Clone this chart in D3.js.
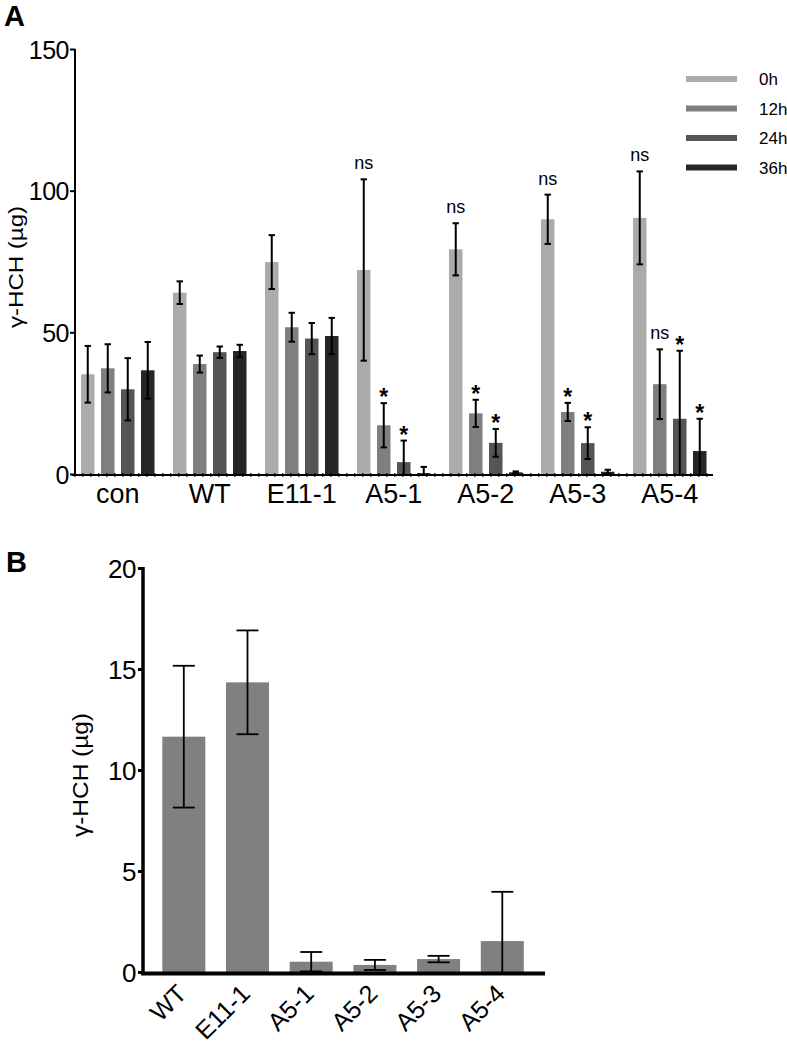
<!DOCTYPE html>
<html><head><meta charset="utf-8">
<script src="https://cdn.jsdelivr.net/npm/d3@7"></script>
<style>body{margin:0;background:#fff}svg{display:block;font-family:Arial,"Liberation Sans",Helvetica,sans-serif}</style>
</head><body><svg id="c" width="787" height="1044"></svg>
<script>
// ---------- Panel A data ----------
const groupsA = ["con","WT","E11-1","A5-1","A5-2","A5-3","A5-4"];
const seriesA = ["0h","12h","24h","36h"];
const colorsA = ["#ababab","#7f7f7f","#555555","#262626"];
const mean0h  = [35.2, 64.0, 74.8, 72.0, 79.3, 89.9, 90.4];
const err0h   = [10.0,  4.0,  9.5, 32.0,  9.2,  8.7, 16.4];
const mean12h = [37.3, 38.8, 51.8, 17.2, 21.4, 21.9, 31.7];
const err12h  = [ 8.5,  3.0,  5.1,  7.8,  4.8,  3.2, 12.3];
const mean24h = [29.9, 43.0, 47.8,  4.2, 11.0, 10.9, 19.5];
const err24h  = [11.0,  2.0,  5.5,  7.6,  4.9,  5.6, 24.0];
const mean36h = [36.6, 43.4, 48.7,  0.3,  0.6,  0.8,  8.1];
const err36h  = [10.0,  2.2,  6.4,  2.2,  0.3,  0.7, 11.4];
const ticksA = [0, 50, 100, 150];
// significance labels: [group, series, label]
const annotA = [
  ["A5-1","0h","ns"],["A5-1","12h","*"],["A5-1","24h","*"],
  ["A5-2","0h","ns"],["A5-2","12h","*"],["A5-2","24h","*"],
  ["A5-3","0h","ns"],["A5-3","12h","*"],["A5-3","24h","*"],
  ["A5-4","0h","ns"],["A5-4","12h","ns"],["A5-4","24h","*"],["A5-4","36h","*"]
];
// ---------- Panel B data ----------
const groupsB = ["WT","E11-1","A5-1","A5-2","A5-3","A5-4"];
const meanB = [11.65, 14.34, 0.51, 0.35, 0.64, 1.53];
const errB  = [ 3.51,  2.57, 0.48, 0.25, 0.16, 2.44];
const ticksB = [0, 5, 10, 15, 20];
const yLabel = "γ-HCH (µg)";

const svg = d3.select("#c");
const meansA = [mean0h, mean12h, mean24h, mean36h];
const errsA  = [err0h, err12h, err24h, err36h];
const dataA = [];
groupsA.forEach((g,i)=>seriesA.forEach((s,j)=>dataA.push({g, s, j, v:meansA[j][i], e:errsA[j][i]})));

// ---------- Panel A ----------
const x0 = d3.scaleBand().domain(groupsA).range([77, 77+7*92]).padding(0);
const x1 = d3.scaleBand().domain(seriesA).range([4, 77.5]).paddingInner(0.325).paddingOuter(0);
const yA = d3.scaleLinear().domain([0,150]).range([474, 49]);
const gA = svg.append("g");

gA.append("text").attr("x",4).attr("y",26).attr("font-size",29).attr("font-weight","bold").text("A");

gA.selectAll("rect.bar").data(dataA).join("rect")
  .attr("x", d=>x0(d.g)+x1(d.s)).attr("width", x1.bandwidth())
  .attr("y", d=>yA(d.v)).attr("height", d=>yA(0)-yA(d.v))
  .attr("fill", d=>colorsA[d.j]);

const cxA = d=>x0(d.g)+x1(d.s)+x1.bandwidth()/2;
const eb = gA.selectAll("g.eb").data(dataA).join("g").attr("stroke","#000").attr("stroke-width",2);
eb.append("line").attr("x1",cxA).attr("x2",cxA).attr("y1",d=>yA(d.v+d.e)).attr("y2",d=>yA(Math.max(0,d.v-d.e)));
eb.append("line").attr("x1",d=>cxA(d)-3.2).attr("x2",d=>cxA(d)+3.2).attr("y1",d=>yA(d.v+d.e)).attr("y2",d=>yA(d.v+d.e));
eb.filter(d=>d.v-d.e>0).append("line").attr("x1",d=>cxA(d)-3.2).attr("x2",d=>cxA(d)+3.2).attr("y1",d=>yA(d.v-d.e)).attr("y2",d=>yA(d.v-d.e));

// annotations
annotA.forEach(([g,s,lab])=>{
  const d = dataA.find(o=>o.g===g && o.s===s);
  const t = gA.append("text").attr("x",cxA(d)).attr("text-anchor","middle").text(lab);
  if(lab==="ns") t.attr("y", yA(d.v+d.e)-10).attr("font-size",18);
  else t.attr("y", yA(d.v+d.e)+2).attr("font-size",23).attr("font-weight","bold");
});

// y axis
const axA = gA.append("g").attr("transform","translate(75,0)")
  .call(d3.axisLeft(yA).tickValues(ticksA).tickSize(5).tickPadding(1).tickFormat(d3.format("d")));
axA.select(".domain").attr("stroke-width",2).attr("d",`M0,${yA(150)}V${yA(0)}`);
axA.selectAll(".tick line").attr("stroke-width",2);
axA.selectAll(".tick text").attr("font-size",25).attr("font-family","Arial,'Liberation Sans',sans-serif").attr("fill","#000").attr("dy","0.36em").attr("letter-spacing","-0.5");

// x axis (solid + dotted)
gA.append("line").attr("x1",72).attr("x2",713).attr("y1",yA(0)+1).attr("y2",yA(0)+1).attr("stroke","#000").attr("stroke-width",2);
gA.append("line").attr("x1",74).attr("x2",713).attr("y1",yA(0)+1).attr("y2",yA(0)+1).attr("stroke","#000").attr("stroke-width",3.5).attr("stroke-dasharray","1.5,6.5");
gA.selectAll("text.xl").data(groupsA).join("text")
  .attr("x",d=>x0(d)+4+73.5/2).attr("y",503).attr("text-anchor","middle").attr("font-size",27).text(d=>d);

gA.append("text").attr("transform",`translate(23,267) rotate(-90)`).attr("text-anchor","middle")
  .attr("font-size",20).attr("textLength",122).attr("lengthAdjust","spacingAndGlyphs").text(yLabel);

// legend
const lg = gA.selectAll("g.lg").data(seriesA).join("g").attr("transform",(d,i)=>`translate(0,${79+i*29.5})`);
lg.append("rect").attr("x",686).attr("y",-3).attr("width",51).attr("height",6).attr("fill",(d,i)=>colorsA[i]);
lg.append("text").attr("x",759).attr("y",0).attr("dy","0.36em").attr("font-size",17).text(d=>d);

// ---------- Panel B ----------
const xB = d3.scaleBand().domain(groupsB).range([151.95, 534.15]).paddingInner(0.325).paddingOuter(0.1625);
const yB = d3.scaleLinear().domain([0,20]).range([972, 568]);
const gB = svg.append("g");
gB.append("text").attr("x",6).attr("y",572).attr("font-size",29).attr("font-weight","bold").text("B");

gB.selectAll("rect").data(groupsB).join("rect")
  .attr("x",d=>xB(d)).attr("width",xB.bandwidth())
  .attr("y",(d,i)=>yB(meanB[i])).attr("height",(d,i)=>yB(0)-yB(meanB[i])).attr("fill","#808080");
const cxB = d=>xB(d)+xB.bandwidth()/2;
const ebB = gB.selectAll("g.eb").data(groupsB).join("g").attr("stroke","#000").attr("stroke-width",1.8);
ebB.append("line").attr("x1",cxB).attr("x2",cxB).attr("y1",(d,i)=>yB(meanB[i]+errB[i])).attr("y2",(d,i)=>yB(Math.max(0,meanB[i]-errB[i])));
ebB.append("line").attr("x1",d=>cxB(d)-11).attr("x2",d=>cxB(d)+11).attr("y1",(d,i)=>yB(meanB[i]+errB[i])).attr("y2",(d,i)=>yB(meanB[i]+errB[i]));
ebB.filter((d,i)=>meanB[i]-errB[i]>0).append("line").attr("x1",d=>cxB(d)-11).attr("x2",d=>cxB(d)+11)
  .attr("y1",(d,i)=>yB(meanB[i]-errB[i])).attr("y2",(d,i)=>yB(meanB[i]-errB[i]));

const axB = gB.append("g").attr("transform","translate(143,0)")
  .call(d3.axisLeft(yB).tickValues(ticksB).tickSize(5).tickPadding(2).tickFormat(d3.format("d")));
axB.select(".domain").attr("stroke-width",3.5).attr("d",`M0,${yB(20)-1}V${yB(0)+2}`);
axB.selectAll(".tick line").attr("stroke-width",3);
axB.selectAll(".tick text").attr("font-size",26).attr("font-family","Arial,'Liberation Sans',sans-serif").attr("fill","#000").attr("dy","0.36em").attr("letter-spacing","-0.5");

gB.append("line").attr("x1",141).attr("x2",545).attr("y1",yB(0)+1.5).attr("y2",yB(0)+1.5).attr("stroke","#000").attr("stroke-width",4);
gB.selectAll("text.xl").data(groupsB).join("text")
  .attr("transform",d=>`translate(${cxB(d)-2},${yB(0)+17}) rotate(-45)`)
  .attr("text-anchor","end").attr("dy","0.35em").attr("font-size",25).text(d=>d);

gB.append("text").attr("transform",`translate(88,775) rotate(-90)`).attr("text-anchor","middle")
  .attr("font-size",22).attr("textLength",124).attr("lengthAdjust","spacingAndGlyphs").text(yLabel);
</script></body></html>
